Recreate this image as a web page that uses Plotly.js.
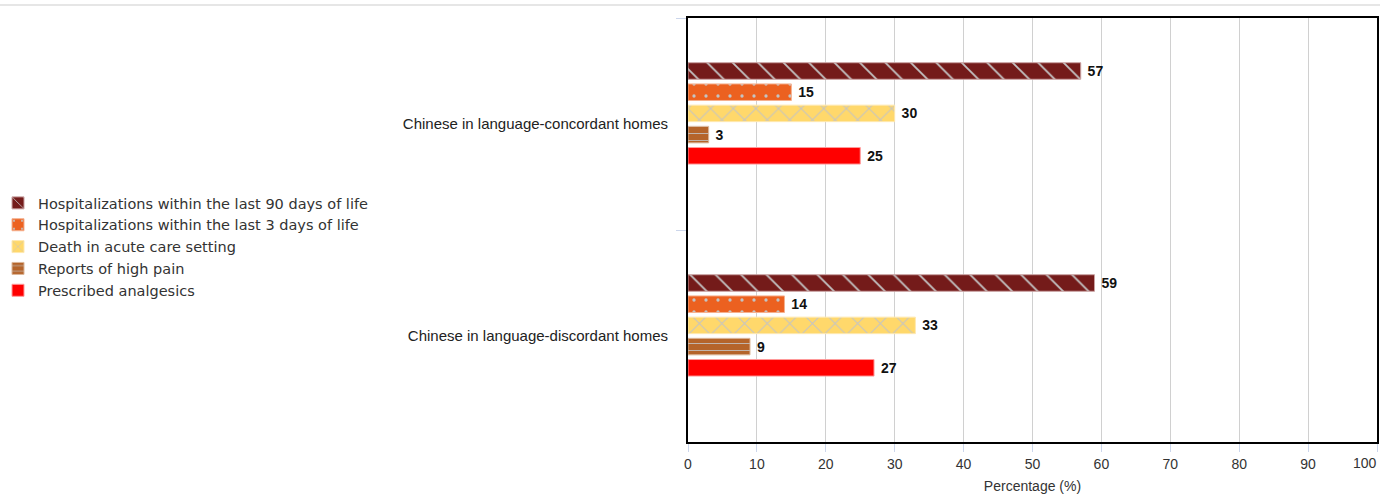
<!DOCTYPE html>
<html>
<head>
<meta charset="utf-8">
<script src="https://cdn.plot.ly/plotly-3.0.1.min.js"></script>
<style>html,body{margin:0;padding:0;background:#fff;}#chart{width:1380px;height:494px;}</style>
</head>
<body>
<div id="chart"></div>
<script>
const categories = ["Chinese in language-concordant homes", "Chinese in language-discordant homes"];
const seriesNames = [
  "Hospitalizations within the last 90 days of life",
  "Hospitalizations within the last 3 days of life",
  "Death in acute care setting",
  "Reports of high pain",
  "Prescribed analgesics"
];
const hosp90 = [57, 59];
const hosp3 = [15, 14];
const deathAcute = [30, 33];
const highPain = [3, 9];
const analgesics = [25, 27];
const xTicks = [0, 10, 20, 30, 40, 50, 60, 70, 80, 90, 100];

const seriesValues = [hosp90, hosp3, deathAcute, highPain, analgesics];
const colors = ["#741b1a", "#ec6120", "#ffd86b", "#b5642a", "#ff0000"];
const lineColors = ["#c9a0a0", "#f5b08e", "#ffe9b0", "#dcb79a", "#ff9a9a"];
const patterns = [
  {shape: "\\", size: 18, solidity: 0.1},
  {shape: ".", size: 12, solidity: 0.06},
  {shape: "x", size: 16, solidity: 0.12},
  {shape: "-", size: 7, solidity: 0.12},
  {shape: ""}
];

const F = "Arial, Liberation Sans, sans-serif";
const traces = seriesValues.map((vals, i) => ({
  type: "bar",
  orientation: "h",
  name: seriesNames[i],
  y: categories,
  x: vals,
  text: vals.map(String),
  texttemplate: " %{text}",
  textposition: "outside",
  cliponaxis: false,
  textfont: {family: F, size: 14, color: "#111", weight: "bold"},
  marker: {
    color: colors[i],
    line: {color: lineColors[i], width: 1},
    pattern: patterns[i].shape ? {shape: patterns[i].shape, size: patterns[i].size, solidity: patterns[i].solidity, fgcolor: "#c4c4c4", fgopacity: 1, bgcolor: colors[i]} : {shape: ""}
  },
  hoverinfo: "x+name"
}));
// empty placeholder slot
traces.push({
  type: "bar", orientation: "h", name: "", y: categories, x: [0, 0],
  showlegend: false, hoverinfo: "skip", marker: {color: "rgba(0,0,0,0)", line: {width: 0}}
});

const L = 688, R = 3, T = 18, B = 52;
const PW = 1380 - L - R;
const lastTick = xTicks[xTicks.length - 1];
// the last tick label is drawn right-aligned at its tick (as in the source) so it stays inside the frame
const tickText = xTicks.map((v, i) => i === xTicks.length - 1 ? "" : String(v));
const layout = {
  width: 1380, height: 494,
  margin: {l: L, r: R, t: T, b: B, pad: 0, autoexpand: false},
  paper_bgcolor: "#fff", plot_bgcolor: "#fff",
  barmode: "group",
  bargap: 0.4,
  bargroupgap: 0.22,
  font: {family: F, size: 14, color: "#333"},
  showlegend: true,
  legend: {
    x: -690 / PW, xanchor: "left", y: 0.46, yanchor: "middle",
    font: {family: "DejaVu Sans, sans-serif", size: 14.5, color: "#333"},
    tracegroupgap: 0, itemwidth: 30, bgcolor: "rgba(0,0,0,0)"
  },
  xaxis: {
    range: [0, 100], tickvals: xTicks, ticktext: tickText,
    showgrid: true, gridcolor: "#d0d0d0", gridwidth: 1,
    zeroline: false,
    showline: true, linecolor: "#000", linewidth: 2, mirror: true,
    ticks: "outside", ticklen: 8, tickcolor: "#ccd6eb",
    tickfont: {family: F, size: 14, color: "#333"},
    title: {text: "Percentage (%)", font: {family: F, size: 14, color: "#333"}, standoff: 10},
    fixedrange: true
  },
  yaxis: {
    type: "category",
    categoryorder: "array", categoryarray: categories,
    autorange: "reversed",
    showgrid: false, zeroline: false,
    showline: true, linecolor: "#000", linewidth: 2, mirror: true,
    ticks: "outside", ticklen: 10, tickcolor: "#ccd6eb", tickson: "boundaries",
    ticklabelstandoff: 15,
    tickfont: {family: F, size: 15, color: "#222"},
    fixedrange: true
  },
  annotations: [{
    xref: "x", yref: "paper", x: lastTick, y: 0,
    text: String(lastTick), showarrow: false,
    xanchor: "right", yanchor: "top", xshift: 2, yshift: -11,
    font: {family: F, size: 14, color: "#333"}
  }],
  shapes: [{
    type: "line", xref: "paper", yref: "paper",
    x0: -L / PW, x1: (1380 - L) / PW, y0: 1.0307, y1: 1.0307,
    line: {color: "#e6e6e6", width: 2}
  }]
};

Plotly.newPlot("chart", traces, layout, {displayModeBar: false});
</script>
</body>
</html>
